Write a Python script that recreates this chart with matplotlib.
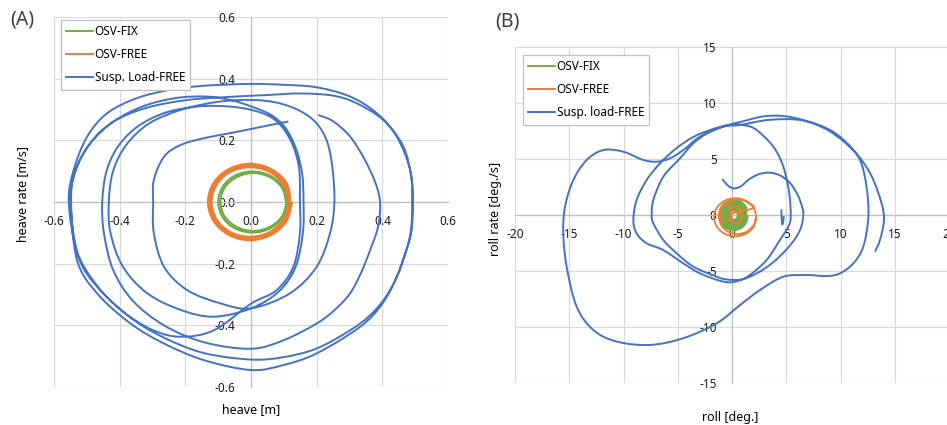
import numpy as np
import matplotlib
matplotlib.use("Agg")
import matplotlib.pyplot as plt
from matplotlib.path import Path
from matplotlib.patches import PathPatch
from matplotlib.lines import Line2D

plt.rcParams['font.family'] = ['Noto Sans', 'DejaVu Sans']
plt.rcParams['axes.unicode_minus'] = False

GREEN = '#70AD47'
ORANGE = '#ED7D31'
BLUE = '#4472C4'
GRID = '#D9D9D9'
AXIS = '#BFBFBF'

# ---------------- (A) heave phase plane ----------------
heave_ticks = [-0.6, -0.4, -0.2, 0.0, 0.2, 0.4, 0.6]
heave_rate_ticks = [-0.6, -0.4, -0.2, 0.0, 0.2, 0.4, 0.6]

heave_fix = [0.110, 0.096, 0.058, 0.005, -0.048, -0.086, -0.100, -0.086, -0.048, 0.005, 0.058, 0.096,
             0.107, 0.094, 0.057, 0.007, -0.043, -0.080, -0.093, -0.080, -0.043, 0.007, 0.057, 0.094, 0.107]
heave_rate_fix = [0.0, -0.050, -0.086, -0.099, -0.086, -0.050, 0.0, 0.050, 0.086, 0.099, 0.086, 0.050,
                  0.0, -0.047, -0.081, -0.094, -0.081, -0.047, 0.0, 0.047, 0.081, 0.094, 0.081, 0.047, 0.0]

heave_free = [0.125, 0.108, 0.061, -0.003, -0.067, -0.114, -0.131, -0.114, -0.067, -0.003, 0.061, 0.108,
              0.119, 0.103, 0.058, -0.003, -0.064, -0.109, -0.125, -0.109, -0.064, -0.003, 0.058, 0.103,
              0.114, 0.098, 0.056, -0.003, -0.062, -0.104, -0.120, -0.104, -0.062, -0.003, 0.056, 0.098, 0.114]
heave_rate_free = [0.0, -0.062, -0.107, -0.124, -0.107, -0.062, 0.0, 0.062, 0.107, 0.124, 0.107, 0.062,
                   0.0, -0.059, -0.102, -0.118, -0.102, -0.059, 0.0, 0.059, 0.102, 0.118, 0.102, 0.059,
                   0.0, -0.057, -0.098, -0.113, -0.098, -0.057, 0.0, 0.057, 0.098, 0.113, 0.098, 0.057, 0.0]

heave_load = [
    # cycle 1
    0.205, 0.25, 0.302, 0.345, 0.378, 0.393, 0.387, 0.363, 0.335, 0.302, 0.255, 0.2, 0.1, 0.0,
    -0.143, -0.265, -0.36, -0.42, -0.448, -0.453, -0.44, -0.405, -0.345, -0.26, -0.16, -0.07, 0.0,
    0.058, 0.098, 0.129, 0.147, 0.149,
    # cycle 2
    0.149, 0.129, 0.078, 0.0, -0.113, -0.214, -0.3, -0.39, -0.47, -0.53, -0.555, -0.54,
    -0.499, -0.438, -0.347, -0.245, -0.143, 0.0, 0.1, 0.2, 0.302, 0.383, 0.444, 0.485, 0.493,
    # cycle 3
    0.488, 0.465, 0.444, 0.40, 0.332, 0.2, 0.098, 0.0, -0.143, -0.265, -0.367, -0.469, -0.53,
    -0.548, -0.535, -0.49, -0.42, -0.32, -0.2, -0.08, 0.05, 0.15, 0.25, 0.322, 0.403, 0.464, 0.488, 0.491,
    # cycle 4
    0.486, 0.46, 0.424, 0.37, 0.302, 0.2, 0.1, 0.0, -0.143, -0.265, -0.367, -0.46, -0.525, -0.55,
    -0.535, -0.49, -0.42, -0.33, -0.23, -0.135, -0.06, 0.0, 0.06, 0.105, 0.138, 0.156, 0.16,
    # cycle 5
    0.158, 0.136, 0.085, 0.0, -0.113, -0.214, -0.316, -0.39, -0.428, -0.433, -0.42, -0.38, -0.31, -0.21,
    -0.1, 0.0, 0.08, 0.15, 0.2, 0.232, 0.248, 0.254,
    # cycle 6
    0.241, 0.2, 0.119, 0.0, -0.092, -0.194, -0.265, -0.296, -0.298, -0.296, -0.265, -0.214, -0.143,
    -0.07, 0.01, 0.06, 0.114]
heave_rate_load = [
    0.282, 0.262, 0.212, 0.14, 0.065, 0.0, -0.08, -0.156, -0.23, -0.296, -0.35, -0.394, -0.448, -0.476,
    -0.455, -0.40, -0.32, -0.22, -0.1, 0.0, 0.10, 0.18, 0.245, 0.29, 0.31, 0.31, 0.299,
    0.277, 0.239, 0.18, 0.104, 0.0,
    -0.10, -0.21, -0.286, -0.33, -0.416, -0.437, -0.415, -0.355, -0.27, -0.16, 0.0, 0.104,
    0.212, 0.288, 0.337, 0.364, 0.377, 0.383, 0.38, 0.372, 0.342, 0.288, 0.212, 0.104, 0.0,
    -0.1, -0.18, -0.242, -0.33, -0.405, -0.491, -0.529, -0.545, -0.513, -0.459, -0.394, -0.296, -0.188,
    0.0, 0.1, 0.19, 0.26, 0.305, 0.33, 0.34, 0.347, 0.352, 0.345, 0.32, 0.266, 0.18, 0.08, 0.0,
    -0.1, -0.2, -0.286, -0.36, -0.416, -0.475, -0.503, -0.511, -0.49, -0.44, -0.375, -0.285, -0.18,
    0.0, 0.1, 0.19, 0.26, 0.31, 0.337, 0.342, 0.33, 0.31, 0.283, 0.24, 0.17, 0.09, 0.0,
    -0.10, -0.21, -0.29, -0.345, -0.372, -0.35, -0.296, -0.21, -0.10, 0.0, 0.10, 0.185, 0.255, 0.3,
    0.325, 0.331, 0.322, 0.295, 0.255, 0.195, 0.11, 0.0,
    -0.10, -0.21, -0.296, -0.345, -0.329, -0.286, -0.21, -0.10, 0.0, 0.071, 0.147, 0.185, 0.207,
    0.222, 0.239, 0.25, 0.261]

# ---------------- (B) roll phase plane ----------------
roll_ticks = [-20, -15, -10, -5, 0, 5, 10, 15, 20]
roll_rate_ticks = [-15, -10, -5, 0, 5, 10, 15]

roll_fix = [1.45, 1.28, 0.80, 0.15, -0.50, -0.98, -1.15, -0.98, -0.50, 0.15, 0.80, 1.28,
            1.27, 1.12, 0.71, 0.15, -0.41, -0.82, -0.97, -0.82, -0.41, 0.15, 0.71, 1.12,
            1.10, 0.97, 0.63, 0.15, -0.33, -0.67, -0.80, -0.67, -0.33, 0.15, 0.63, 0.97,
            0.93, 0.83, 0.54, 0.15, -0.24, -0.53, -0.63, -0.53, -0.24, 0.15, 0.54, 0.83,
            0.75, 0.67, 0.45, 0.15, -0.15, -0.37, -0.45, -0.37, -0.15, 0.15, 0.45, 0.67,
            0.57, 0.51, 0.36, 0.15, -0.06, -0.21, -0.27, -0.21, -0.06, 0.15, 0.36, 0.51, 0.57]
roll_rate_fix = [0.0, -0.67, -1.16, -1.34, -1.16, -0.67, 0.0, 0.67, 1.16, 1.34, 1.16, 0.67,
                 0.0, -0.58, -1.0, -1.16, -1.0, -0.58, 0.0, 0.58, 1.0, 1.16, 1.0, 0.58,
                 0.0, -0.49, -0.85, -0.98, -0.85, -0.49, 0.0, 0.49, 0.85, 0.98, 0.85, 0.49,
                 0.0, -0.4, -0.69, -0.8, -0.69, -0.4, 0.0, 0.4, 0.69, 0.8, 0.69, 0.4,
                 0.0, -0.31, -0.54, -0.62, -0.54, -0.31, 0.0, 0.31, 0.54, 0.62, 0.54, 0.31,
                 0.0, -0.22, -0.38, -0.44, -0.38, -0.22, 0.0, 0.22, 0.38, 0.44, 0.38, 0.22, 0.0]

roll_free = [2.25, 1.99, 1.28, 0.3, -0.68, -1.39, -1.65, -1.39, -0.68, 0.3, 1.28, 1.99,
             2.2, 1.97, 1.35, 0.5, -0.35, -0.97, -1.2, -0.97, -0.35, 0.5, 1.35, 1.97,
             0.05, -0.03, -0.25, -0.55, -0.85, -1.07, -1.15, -1.07, -0.85, -0.55, -0.25, -0.03,
             0.85, 0.78, 0.58, 0.3, 0.03, -0.18, -0.25, -0.18, 0.03, 0.3, 0.58, 0.78, 0.85]
roll_rate_free = [-0.2, -1.05, -1.67, -1.9, -1.67, -1.05, -0.2, 0.65, 1.27, 1.5, 1.27, 0.65,
                  -0.15, -0.93, -1.49, -1.7, -1.49, -0.93, -0.15, 0.63, 1.19, 1.4, 1.19, 0.63,
                  0.15, -0.23, -0.5, -0.6, -0.5, -0.23, 0.15, 0.53, 0.8, 0.9, 0.8, 0.53,
                  0.05, -0.35, -0.64, -0.75, -0.64, -0.35, 0.05, 0.45, 0.74, 0.85, 0.74, 0.45, 0.05]

# suspended-load roll record; the blank entry (nan) separates the short
# turning segment near roll = 4.6 deg from the main record
roll_load = [
    4.55, 4.57, 4.62, 4.7, 4.78, np.nan,
    -0.89, -0.4, 0.12, 0.8, 1.6, 2.5, 3.5, 4.5, 5.4, 6.1, 6.5, 6.57, 6.4, 5.9, 5.0, 3.7, 2.3, 0.9,
    -0.5, -1.41, -3.56, -5.10, -6.33, -7.25, -7.40, -7.25, -6.33, -4.79, -3.56, -2.03, -0.18, 1.2, 2.27,
    3.81, 4.73, 5.28, 5.41, 5.19, 4.42, 3.19, 1.66, 0.5,
    -0.80, -2.95, -4.49, -6.33, -7.86, -8.79, -9.09, -8.79, -7.86, -6.64, -5.2, -3.5, -1.5, 0.74, 3.19,
    5.65, 8.4, 10.5, 11.8, 12.4, 12.57, 12.10, 11.18, 9.95, 8.72, 6.88, 4.73, 2.58, 0.74, -1.41, -4.49,
    -7.56, -10.63, -12.78, -14.32, -15.24, -15.55, -15.39, -14.62, -13.39, -11.86, -10.02, -8.17, -6.94,
    -5.71, -4.49, -2.95, -0.80, 0.74, 3.5, 6.5, 9.2, 11.2, 12.8, 13.8, 14.0, 13.64, 13.18]
roll_rate_load = [
    0.5, -0.2, -0.8, -0.7, -0.1, np.nan,
    3.21, 2.65, 2.38, 2.55, 3.2, 3.65, 3.78, 3.5, 2.8, 1.7, 0.6, 0.0, -1.0, -2.0, -3.1, -4.3, -5.2, -5.75,
    -5.75, -5.51, -4.61, -3.42, -2.23, -0.74, 0.0, 1.34, 3.42, 5.06, 6.4, 7.44, 8.04, 8.0, 7.59,
    6.10, 4.32, 1.93, -0.15, -1.04, -2.23, -4.02, -5.35, -5.9,
    -5.95, -5.21, -4.32, -3.13, -2.53, -1.64, -0.45, 1.34, 3.13, 4.61, 5.9, 7.0, 7.75, 8.3, 8.84,
    8.7, 7.8, 6.4, 4.91, 2.5, -0.15, -2.83, -4.32, -5.21, -5.45, -5.36, -5.51, -6.70, -8.04, -9.67, -11.0,
    -11.6, -11.3, -10.27, -8.18, -4.61, -1.64, 0.74, 3.13, 4.91, 5.80, 5.65, 4.91, 4.76,
    5.06, 5.80, 6.99, 7.89, 8.04, 8.5, 8.45, 7.5, 5.8, 3.6, 1.0, -0.5, -2.23, -3.27]

series_names_a = ['OSV-FIX', 'OSV-FREE', 'Susp. Load-FREE']
series_names_b = ['OSV-FIX', 'OSV-FREE', 'Susp. load-FREE']


def bezier_path(pts):
    """Catmull-Rom smoothing expressed as cubic Bezier segments."""
    n = len(pts)
    verts = [pts[0]]
    codes = [Path.MOVETO]
    for i in range(n - 1):
        p0 = pts[i - 1] if i > 0 else pts[i]
        p1 = pts[i]
        p2 = pts[i + 1]
        p3 = pts[i + 2] if i + 2 < n else pts[i + 1]
        verts += [p1 + (p2 - p0) / 6.0, p2 - (p3 - p1) / 6.0, p2]
        codes += [Path.CURVE4] * 3
    return verts, codes


def smooth_line(ax, x, y, color, lw=1.4, z=3):
    pts = np.column_stack([x, y]).astype(float)
    ok = ~np.isnan(pts).any(axis=1)
    pieces, cur = [], []
    for p, good in zip(pts, ok):
        if good:
            cur.append(p)
        elif cur:
            pieces.append(np.array(cur))
            cur = []
    if cur:
        pieces.append(np.array(cur))
    verts, codes = [], []
    for piece in pieces:
        v, c = bezier_path(piece)
        verts += v
        codes += c
    ax.add_patch(PathPatch(Path(verts, codes), facecolor='none', edgecolor=color,
                           lw=lw, zorder=z, joinstyle='round', capstyle='butt'))


def style_axes(ax, xt, yt, xfmt, yfmt):
    ax.set_xlim(xt[0], xt[-1])
    ax.set_ylim(yt[0], yt[-1])
    ax.set_xticks(xt)
    ax.set_yticks(yt)
    ax.set_xticklabels([xfmt(v) for v in xt])
    ax.set_yticklabels([yfmt(v) for v in yt])
    ax.grid(True, color=GRID, lw=0.9)
    ax.set_axisbelow(True)
    for s in ('top', 'right'):
        ax.spines[s].set_visible(False)
    for s in ('left', 'bottom'):
        ax.spines[s].set_position(('data', 0))
        ax.spines[s].set_color(AXIS)
        ax.spines[s].set_linewidth(0.9)
    ax.tick_params(axis='x', length=0, pad=9.5, labelsize=8.5, colors='#1a1a1a')
    ax.tick_params(axis='y', length=0, pad=11, labelsize=8.5, colors='#1a1a1a')
    ax.set_facecolor('white')


W, H = 947, 425
fig = plt.figure(figsize=(W / 100, H / 100), dpi=100)

axA = fig.add_axes([54 / W, 1 - 387 / H, 394 / W, 370 / H])
style_axes(axA, heave_ticks, heave_rate_ticks, lambda v: f"{v:.1f}", lambda v: f"{v:.1f}")
smooth_line(axA, heave_fix, heave_rate_fix, GREEN, lw=1.5)
smooth_line(axA, heave_free, heave_rate_free, ORANGE, lw=1.5)
smooth_line(axA, heave_load, heave_rate_load, BLUE, lw=1.4)

axB = fig.add_axes([515 / W, 1 - 383 / H, 434 / W, 336 / H])
style_axes(axB, roll_ticks, roll_rate_ticks, lambda v: f"{v:d}", lambda v: f"{v:d}")
smooth_line(axB, roll_fix, roll_rate_fix, GREEN, lw=1.7)
smooth_line(axB, roll_free, roll_rate_free, ORANGE, lw=1.3)
smooth_line(axB, roll_load, roll_rate_load, BLUE, lw=1.4)


def legend(ax, names, x0, y0):
    handles = [Line2D([], [], color=c, lw=1.4) for c in (GREEN, ORANGE, BLUE)]
    lg = ax.legend(handles, names, loc='upper left', bbox_to_anchor=(x0 / W, 1 - y0 / H),
                   bbox_transform=fig.transFigure, fontsize=8.5, frameon=True, fancybox=False,
                   edgecolor=AXIS, framealpha=1, borderaxespad=0, borderpad=0.45,
                   handlelength=2.3, handletextpad=0.1, labelspacing=0.85)
    lg.get_frame().set_linewidth(0.9)
    lg.set_zorder(10)


legend(axA, series_names_a, 61, 20)
legend(axB, series_names_b, 523, 55)

fig.text(22 / W, 1 - 20 / H, '(A)', fontsize=14, ha='center', va='center', color='#404040')
fig.text(507 / W, 1 - 21 / H, '(B)', fontsize=14, ha='center', va='center', color='#404040')
fig.text(251 / W, 1 - 410 / H, 'heave [m]', fontsize=9, fontweight='bold', ha='center', va='center')
fig.text(23 / W, 1 - 194 / H, 'heave rate [m/s]', fontsize=9, fontweight='bold', rotation=90,
         ha='center', va='center')
fig.text(730 / W, 1 - 417 / H, 'roll [deg.]', fontsize=9, fontweight='bold', ha='center', va='center')
fig.text(495 / W, 1 - 209 / H, 'roll rate [deg./s]', fontsize=9, fontweight='bold', rotation=90,
         ha='center', va='center')

fig.savefig('out.png', dpi=100, facecolor='white')
